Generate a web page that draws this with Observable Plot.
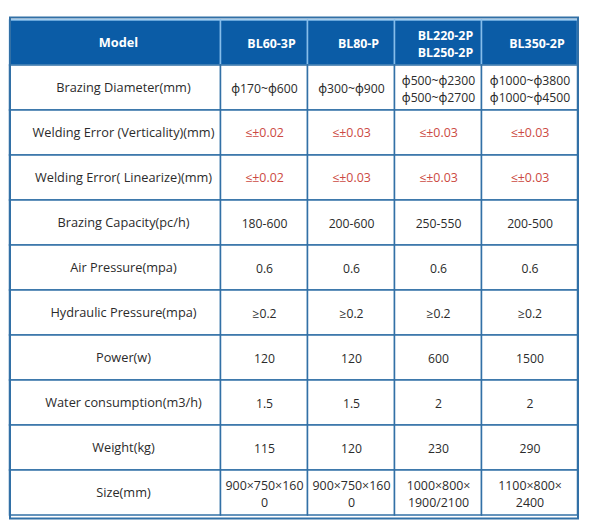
<!DOCTYPE html>
<html>
<head>
<meta charset="utf-8">
<script src="https://cdn.jsdelivr.net/npm/d3@7"></script>
<script src="https://cdn.jsdelivr.net/npm/@observablehq/plot@0.6"></script>
<style>
  html, body { margin: 0; padding: 0; background: #fff; }
  #chart svg { display: block; }
</style>
</head>
<body>
<div id="chart"></div>
<script>
// ---- data ----
const headerLabel = "Model";
const models = ["BL60-3P", "BL80-P", "BL220-2P\nBL250-2P", "BL350-2P"];
const parameters = [
  "Brazing Diameter(mm)",
  "Welding Error (Verticality)(mm)",
  "Welding Error( Linearize)(mm)",
  "Brazing Capacity(pc/h)",
  "Air Pressure(mpa)",
  "Hydraulic Pressure(mpa)",
  "Power(w)",
  "Water consumption(m3/h)",
  "Weight(kg)",
  "Size(mm)"
];
const bl60_3p  = ["ϕ170~ϕ600", "≤±0.02", "≤±0.02", "180-600", "0.6", "≥0.2", "120", "1.5", "115", "900×750×160\n0"];
const bl80_p   = ["ϕ300~ϕ900", "≤±0.03", "≤±0.03", "200-600", "0.6", "≥0.2", "120", "1.5", "120", "900×750×160\n0"];
const bl220_250 = ["ϕ500~ϕ2300\nϕ500~ϕ2700", "≤±0.03", "≤±0.03", "250-550", "0.6", "≥0.2", "600", "2", "230", "1000×800×\n1900/2100"];
const bl350_2p = ["ϕ1000~ϕ3800\nϕ1000~ϕ4500", "≤±0.03", "≤±0.03", "200-500", "0.6", "≥0.2", "1500", "2", "290", "1100×800×\n2400"];
const highlightedRows = ["Welding Error (Verticality)(mm)", "Welding Error( Linearize)(mm)"];

// ---- layout (not data) ----
const columnWidths = [211, 87, 87, 87, 96];
const edges = [0];
columnWidths.forEach(w => edges.push(edges[edges.length - 1] + w));

const columns = [parameters, bl60_3p, bl80_p, bl220_250, bl350_2p];
const headers = [headerLabel, ...models];
const rows = [headerLabel, ...parameters];

const headerCells = headers.map((t, c) => ({row: headerLabel, c, x1: edges[c], x2: edges[c + 1], text: t}));
const bodyCells = [];
parameters.forEach((p, r) => {
  columns.forEach((col, c) => {
    bodyCells.push({row: p, c, x1: edges[c], x2: edges[c + 1], text: col[r]});
  });
});
const mid = d => (d.x1 + d.x2) / 2;

const blue = "#0b5ca6";
const grid = "#3270a6";
const lightDivider = "#86bdea";
const red = "#cc4a42";
const ink = "#2b2b2b";
const font = "'Open Sans', 'Noto Sans', sans-serif";
const fs = 12.75;

const isSize = d => d.row === "Size(mm)";

const chart = Plot.plot({
  width: 593,
  height: 532,
  marginLeft: 9.5,
  marginRight: 15.5,
  marginTop: 17,
  marginBottom: 14,
  style: {fontFamily: font, background: "#fff"},
  x: {domain: [0, edges[edges.length - 1]], axis: null},
  y: {domain: rows, axis: null, padding: 0},
  marks: [
    Plot.barX(headerCells, {x1: "x1", x2: "x2", y: "row", fill: blue, stroke: lightDivider, strokeWidth: 1.5, inset: 0}),
    Plot.barX(bodyCells, {x1: "x1", x2: "x2", y: "row", fill: "#fff", stroke: grid, strokeWidth: 1.5, inset: 0}),
    Plot.frame({stroke: grid, strokeWidth: 2}),
    // header text
    Plot.text(headerCells, {
      x: mid, y: "row", text: "text", fill: "#fff", fontWeight: "bold", fontSize: fs,
      filter: d => d.c === 0, dx: 3
    }),
    Plot.text(headerCells, {
      x: mid, y: "row", text: "text", fill: "#fff", fontWeight: "bold", fontSize: 12.4,
      lineHeight: 1.38, filter: d => d.c > 0, dx: 7
    }),
    // parameter names
    Plot.text(bodyCells, {
      x: mid, y: "row", text: "text", fill: ink, fontSize: fs,
      filter: d => d.c === 0, dx: 8
    }),
    // values: normal
    Plot.text(bodyCells, {
      x: mid, y: "row", text: "text", fill: ink, fontSize: 12.2, lineHeight: 1.38,
      filter: d => d.c > 0 && !highlightedRows.includes(d.row) && !isSize(d)
    }),
    Plot.text(bodyCells, {
      x: mid, y: "row", text: "text", fill: ink, fontSize: 12.4, lineHeight: 1.42,
      filter: d => d.c > 0 && isSize(d)
    }),
    // values: highlighted red
    Plot.text(bodyCells, {
      x: mid, y: "row", text: "text", fill: red, fontSize: 12.4,
      filter: d => d.c > 0 && highlightedRows.includes(d.row)
    })
  ]
});
document.getElementById("chart").append(chart);
</script>
</body>
</html>
